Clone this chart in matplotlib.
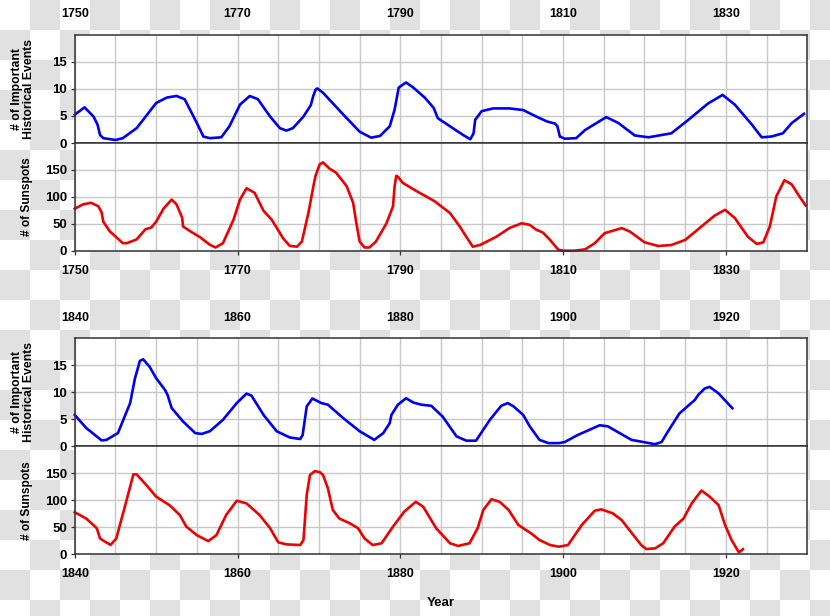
import numpy as np
import matplotlib
matplotlib.use("Agg")
from matplotlib import pyplot as plt
from matplotlib.ticker import MultipleLocator

plt.rcParams['font.family'] = ['Liberation Sans', 'DejaVu Sans']
plt.rcParams['font.weight'] = 'bold'

# --- data (year, value) ---
# 1750-1840 block
events_years_a = [1750, 1751.2, 1752.3, 1752.8, 1753.1, 1753.5, 1755, 1755.9, 1757.6, 1760, 1761.3, 1762.5,
                  1763.5, 1765, 1765.8, 1766.6, 1768, 1769, 1770.3, 1771.5, 1772.5, 1774, 1775.2, 1776,
                  1776.8, 1778.1, 1779, 1779.3, 1779.6, 1779.8, 1780.5, 1783, 1785, 1786.4, 1787.5, 1788.7,
                  1789.3, 1789.8, 1790.7, 1791.6, 1793, 1794.1, 1794.6, 1796.1, 1797.7, 1798.6, 1799, 1799.2,
                  1800, 1801.4, 1803.4, 1805.1, 1806.7, 1808, 1809, 1809.3, 1809.6, 1810.2, 1811.6, 1812.7,
                  1815.3, 1816.8, 1818.8, 1820.5, 1823.3, 1825.4, 1827.8, 1829.6, 1831.1, 1833.2, 1834.4,
                  1835.6, 1837, 1838.1, 1839.6]
events_a = [5.25, 6.6, 4.9, 3.4, 1.5, 0.9, 0.56, 0.9, 2.75, 7.4, 8.4, 8.7,
            8.1, 3.7, 1.2, 0.9, 1.06, 3.1, 7.1, 8.7, 8.1, 4.9, 2.75, 2.3,
            2.75, 4.9, 7.0, 8.7, 9.9, 10.1, 9.3, 5.25, 2.1, 1.0, 1.3, 3.1,
            6.2, 10.25, 11.2, 10.25, 8.4, 6.5, 4.6, 3.1, 1.5, 0.7, 1.8, 4.3,
            5.9, 6.4, 6.4, 6.1, 4.9, 4.0, 3.6, 3.1, 1.2, 0.8, 0.9, 2.4,
            4.8, 3.7, 1.4, 1.06, 1.8, 4.3, 7.3, 8.9, 7.1, 3.4, 1.06,
            1.2, 1.8, 3.7, 5.4]

spots_years_a = [1750, 1751, 1752, 1752.9, 1753.3, 1753.5, 1754.3, 1755.9, 1756.4, 1757.6, 1758.7, 1759.4,
                 1760, 1760.9, 1761.9, 1762.5, 1763.2, 1763.3, 1764.2, 1765.4, 1766.6, 1767.3, 1768.2,
                 1769.5, 1770.3, 1771.1, 1772.1, 1772.7, 1773.2, 1774.2, 1775.6, 1776.4, 1777.3, 1777.9,
                 1778.7, 1779.4, 1779.6, 1780.1, 1780.5, 1781.3, 1782.1, 1783.4, 1784.2, 1784.6, 1785,
                 1785.6, 1786.2, 1787, 1788.3, 1789.1, 1789.3, 1789.5, 1789.7, 1790.3, 1792, 1794.2,
                 1796.1, 1797.3, 1798.1, 1798.9, 1799.8, 1801.8, 1803.4, 1804.9, 1805.9, 1806.7, 1807.5,
                 1808.4, 1809.4, 1810, 1811.4, 1812.7, 1813.9, 1815.1, 1817.2, 1818.2, 1820, 1821.7,
                 1823.3, 1825, 1827, 1828.6, 1829.9, 1831.1, 1832.7, 1833.8, 1834.6, 1835.4, 1836.2,
                 1837.2, 1838.1, 1838.9, 1839.8]
spots_a = [78, 86, 89, 82.5, 71, 54, 36, 14, 14, 21, 40, 43,
           54, 78, 95, 86, 61, 45, 36, 25, 11, 6, 14,
           57.5, 95, 116, 107.5, 89, 74, 57.5, 23, 9, 7.5, 17,
           70, 126, 140, 160.6, 164, 152.5, 145, 120, 89, 51, 17,
           6, 6, 17, 51, 82.5, 120, 139, 137.5, 126, 110.6, 92,
           70, 45, 26, 7.5, 10.6, 26, 42, 51, 48, 39, 34,
           20, 2, 0, 0, 2.5, 14, 32.5, 42, 35.6, 15.6, 8.75,
           10.6, 20, 45, 65, 76, 60.6, 26, 12.5, 15.6, 45, 101,
           131, 123, 104, 84]

# 1840-1930 block
events_years_b = [1840, 1841.4, 1843.3, 1843.9, 1845.3, 1846.8, 1847.4, 1848, 1848.4, 1849.2, 1850, 1851.1,
                  1851.4, 1851.9, 1853.3, 1854.8, 1855.6, 1856.6, 1858.2, 1859.9, 1861.1, 1861.7, 1863.2,
                  1864.8, 1866.4, 1867.7, 1868, 1868.5, 1869.2, 1870.3, 1871.1, 1873, 1875, 1876.8, 1877.9,
                  1878.7, 1878.9, 1879.7, 1880.7, 1881.6, 1882.6, 1883.8, 1885.2, 1886.9, 1888.1, 1889.3,
                  1891, 1892.4, 1893.2, 1893.9, 1895.1, 1895.9, 1897.1, 1898.2, 1899.5, 1900.2, 1901.8,
                  1904.5, 1905.5, 1908.4, 1911.3, 1912.1, 1912.9, 1914.3, 1916.2, 1916.6, 1917.4, 1918,
                  1919.1, 1920.8]
events_b = [5.8, 3.4, 1.1, 1.2, 2.45, 8, 12.6, 15.8, 16.1, 14.7, 12.6, 10.4,
            9.5, 7.1, 4.6, 2.45, 2.3, 2.8, 4.9, 8, 9.75, 9.4, 5.8,
            2.8, 1.65, 1.35, 2.1, 7.4, 8.85, 8, 7.7, 5.2, 2.8, 1.2, 2.45,
            4.3, 5.8, 7.7, 8.9, 8.1, 7.7, 7.5, 5.5, 1.85, 1.05, 1.05,
            4.9, 7.5, 8, 7.4, 5.8, 3.7, 1.2, 0.6, 0.6, 0.8, 2.1,
            3.9, 3.7, 1.2, 0.4, 0.8, 2.8, 6.1, 8.6, 9.5, 10.7, 11,
            9.8, 7.05]

spots_years_b = [1840, 1841.4, 1842.7, 1843.1, 1843.7, 1844.4, 1845.1, 1846.1, 1847.2, 1847.6, 1848.8, 1850,
                 1851.7, 1852.9, 1853.7, 1855, 1856.4, 1857.4, 1858.6, 1859.9, 1861.1, 1862.7, 1864, 1865,
                 1866, 1867.7, 1868.1, 1868.5, 1868.9, 1869.5, 1870.1, 1870.5, 1871.1, 1871.7, 1872.5,
                 1873.8, 1874.8, 1875.6, 1876.6, 1877.7, 1879.1, 1880.5, 1881.9, 1882.8, 1884.4, 1886.1,
                 1887.1, 1888.5, 1889.5, 1890.2, 1891.2, 1892.2, 1893.3, 1894.5, 1896.1, 1897.1, 1898.4,
                 1899.5, 1900.6, 1902.3, 1903.9, 1904.7, 1906.1, 1907.2, 1908.8, 1909.6, 1910.2, 1911.3,
                 1912.3, 1913.7, 1914.8, 1915.8, 1917, 1918, 1919.1, 1919.9, 1920.7, 1921.6, 1922.1]
spots_b = [77.5, 66, 48, 29, 23, 17, 29, 85, 148, 148, 128, 106.6,
           90, 72.5, 51, 35, 24, 35, 72.5, 99, 94, 72.5, 48, 21.7,
           18, 16.7, 26, 110, 147, 154, 152, 147, 122, 82, 66,
           57, 48, 29, 16.7, 20, 51, 79, 97, 88, 48, 20,
           15, 20, 48, 82, 101.7, 97, 82, 54, 38, 26, 16.7,
           13.6, 16.7, 54, 80.6, 83, 75.6, 63, 32, 16.7, 9.3, 10.5,
           20, 51, 66, 94, 118, 106.6, 91, 54, 26, 3, 9]

events_ticks = [0, 5, 10, 15]
spots_ticks = [0, 50, 100, 150]

GRID = '#c8c8c8'
SPINE = '#333333'
LEFT, WIDTH = 0.0901, 0.8825


def style_axes(ax, start, yticks, ymax):
    ax.set_xlim(start, start + 90)
    ax.set_ylim(0, ymax)
    ax.set_yticks(yticks)
    ax.set_xticks(list(range(start, start + 90, 20)))
    ax.xaxis.set_minor_locator(MultipleLocator(5))
    ax.set_axisbelow(True)
    ax.grid(True, which='both', color=GRID, lw=1)
    for s in ax.spines.values():
        s.set_color(SPINE)
        s.set_linewidth(1.1)
    ax.tick_params(axis='y', direction='out', length=3, width=0.9, color=SPINE, pad=2.5, labelsize=9.5)
    ax.tick_params(axis='x', which='minor', length=0)


def draw_block(fig, bottom, start, ev_years, ev, sp_years, sp):
    ax_ev = fig.add_axes([LEFT, bottom + 0.1748, WIDTH, 0.1756])
    ax_sp = fig.add_axes([LEFT, bottom, WIDTH, 0.1748])

    ax_ev.plot(ev_years, ev, color='#0000ee', lw=1.9, solid_joinstyle='round', clip_on=False)
    ax_sp.plot(sp_years, sp, color='#ee0000', lw=1.9, solid_joinstyle='round', clip_on=False)

    style_axes(ax_ev, start, events_ticks, 20)
    style_axes(ax_sp, start, spots_ticks, 200)

    # years on top of the events panel, no tick marks
    ax_ev.tick_params(axis='x', which='major', top=True, bottom=False, labeltop=True,
                      labelbottom=False, length=0, pad=10.5, labelsize=9)
    ax_sp.tick_params(axis='x', which='major', direction='out', length=3, width=0.9,
                      color=SPINE, pad=7, labelsize=9)

    ax_ev.set_ylabel('# of Important\nHistorical Events', fontsize=8.8, fontweight='bold', linespacing=1.0)
    ax_ev.yaxis.set_label_coords(-0.054, 0.5)
    ax_sp.set_ylabel('# of Sunspots', fontsize=8.6, fontweight='bold')
    ax_sp.yaxis.set_label_coords(-0.057, 0.5)
    return ax_ev, ax_sp


fig = plt.figure(figsize=(8.3, 6.16), dpi=100)

# transparent-background checker pattern from the reference
h, w = 616, 830
rows = np.arange(h)[:, None] // 30
cols = np.arange(w)[None, :] // 30
shade = np.where((rows + cols) % 2 == 1, 0.885, 1.0)
fig.figimage(np.dstack([shade] * 3), xo=0, yo=0, origin='upper', zorder=-1)

draw_block(fig, 0.5930, 1750, events_years_a, events_a, spots_years_a, spots_a)
draw_block(fig, 0.1006, 1840, events_years_b, events_b, spots_years_b, spots_b)

fig.text(0.5313, 0.0216, 'Year', ha='center', va='center', fontsize=9.5, fontweight='bold')

plt.savefig('out.png', dpi=100)
